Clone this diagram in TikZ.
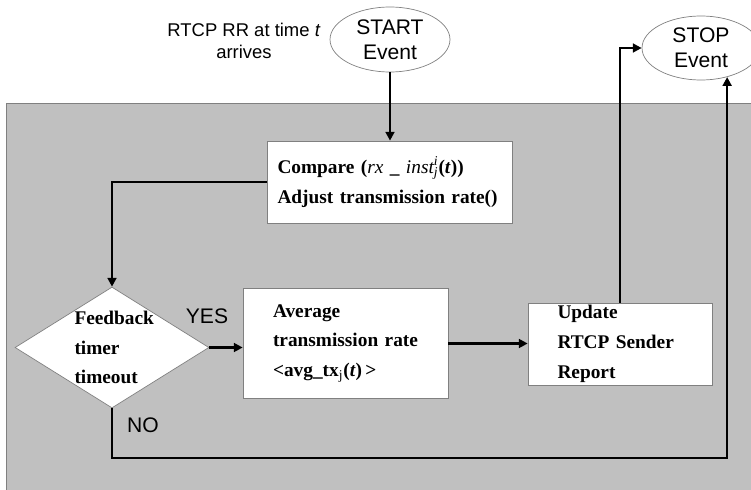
\documentclass[tikz,border=0pt]{standalone}
\usepackage{fontspec}
\setmainfont{Liberation Serif}
\newfontfamily\labelfont{Liberation Sans}
\usetikzlibrary{arrows.meta,shapes.geometric}
\definecolor{panelgray}{RGB}{192,192,192}
\definecolor{edgegray}{RGB}{128,128,128}

\begin{document}
\begin{tikzpicture}[x=0.02cm,y=-0.02cm,
        event/.style={ellipse,draw=edgegray,fill=white,inner sep=0pt,align=center,
            font=\labelfont\fontsize{12}{14}\selectfont},
        procbox/.style={rectangle,draw=edgegray,fill=white,inner sep=0pt,align=left,
            font=\bfseries\fontsize{11}{17}\selectfont},
        flowlabel/.style={font=\labelfont\fontsize{12}{14}\selectfont},
        flow/.style={line width=1.4pt,-{Triangle[length=5pt,width=5pt]}}]

                \useasboundingbox (0,0) rectangle (751,490);
                \filldraw[fill=panelgray,draw=edgegray] (6,103) rectangle (780,520);

                % events
                \node[event,minimum width=2.4cm,minimum height=1.3cm] (start) at (390,39.5) {START\\Event};
                \node[align=center,font=\labelfont\fontsize{10.5}{12.5}\selectfont] (rtcp) at (244,41)
                {RTCP RR at time \textit{t}\\arrives};
                \node[event,minimum width=2.36cm,minimum height=1.28cm] (stop) at (701,48) {STOP\\Event};

                % process boxes
                \node[procbox,minimum width=4.9cm,minimum height=1.64cm,text width=4.5cm] (compare) at (390,182)
                {Compare ({\mdseries\itshape rx}~\_~{\mdseries\itshape inst}\rlap{\raisebox{1pt}{\textsuperscript{\mdseries\itshape i}}}\textsubscript{\mdseries\itshape j}(\textit{t}))\\
                Adjust transmission rate()};

                \node[diamond,draw=edgegray,fill=white,minimum width=3.88cm,minimum height=2.42cm,inner sep=0pt] (timer) at (112,347.5) {};
                \node[procbox,draw=none,fill=none,text width=1.5cm] (timertext) at (timer) {Feedback\\timer\\timeout};

                \node[procbox,minimum width=4.1cm,minimum height=2.2cm,text width=2.9cm] (avg) at (345.5,343.5)
                {Average\\transmission rate\\<avg\_tx\textsubscript{\mdseries j}(\textit{t})\,>};

                \node[procbox,minimum width=3.68cm,minimum height=1.64cm,text width=2.5cm] (update) at (620,344)
                {Update\\RTCP Sender\\Report};

                % branch labels
                \node[flowlabel] (yes) at (207,316) {YES};
                \node[flowlabel] (no) at (143,425) {NO};

                % connectors
                \coordinate (nobottom) at (0,458);
                \draw[flow] (start.south) -- (compare.north);
                \draw[flow] (compare.west) -| (timer.north);
                \draw[flow] (timer.east) -- (timer.east -| avg.west);
                \draw[flow] (avg.east) -- (avg.east -| update.west);
                \draw[flow] (update.north) |- (stop.west);
                \draw[flow] (timer.south) |- (stop.-48 |- nobottom) -- (stop.-48);
\end{tikzpicture}
\end{document}
